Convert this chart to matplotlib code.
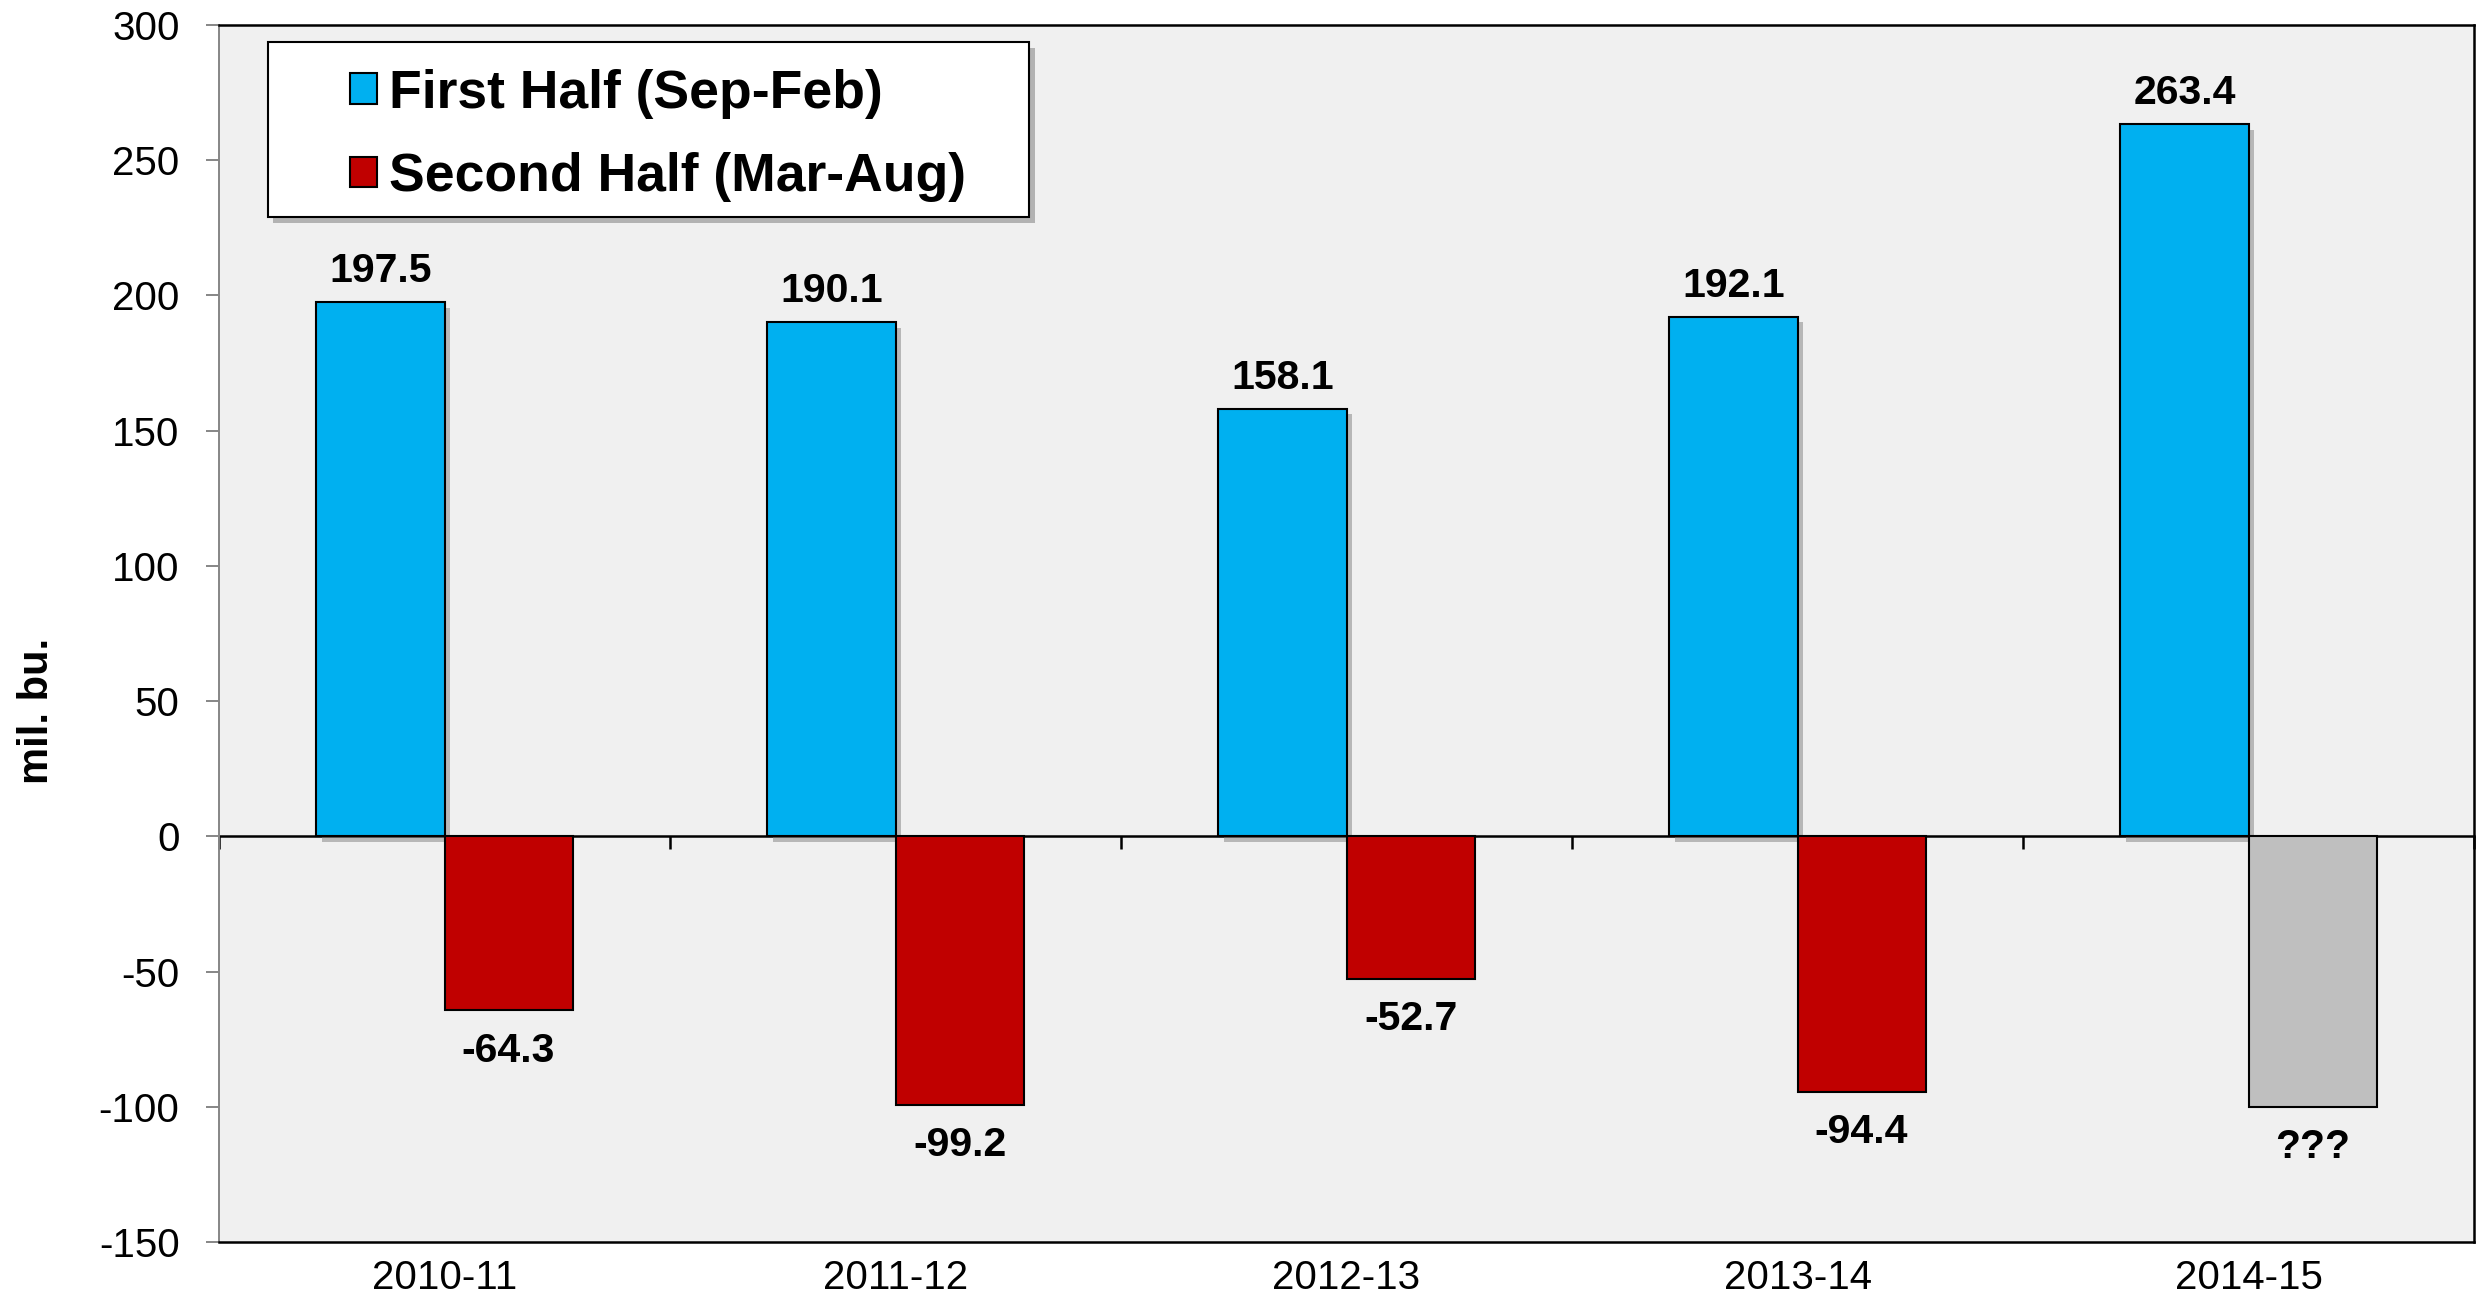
import numpy as np
import matplotlib
matplotlib.use("Agg")
import matplotlib.pyplot as plt
import matplotlib.patheffects as pe
from matplotlib.patches import Rectangle

plt.rcParams['font.family'] = ['Liberation Sans', 'DejaVu Sans']
plt.rcParams['axes.unicode_minus'] = False

# data
seasons = ['2010-11', '2011-12', '2012-13', '2013-14', '2014-15']
first_half = [197.5, 190.1, 158.1, 192.1, 263.4]
second_half = [-64.3, -99.2, -52.7, -94.4, -100.0]
second_labels = ['-64.3', '-99.2', '-52.7', '-94.4', '???']
second_colors = ['#C00000', '#C00000', '#C00000', '#C00000', '#BFBFBF']
yticks = [-150, -100, -50, 0, 50, 100, 150, 200, 250, 300]

fig = plt.figure(figsize=(24.83, 13.16), dpi=100)
ax = fig.add_axes([0.0882, 0.0562, 0.9082, 0.9248])
ax.set_facecolor('#F0F0F0')

x = np.arange(len(seasons))
w = 0.284

shadow = [pe.SimplePatchShadow(offset=(4, -4), shadow_rgbFace='#808080', alpha=0.5), pe.Normal()]

b1 = ax.bar(x - w / 2, first_half, w, color='#00B0F0', edgecolor='black', linewidth=1.5,
            label='First Half (Sep-Feb)', zorder=2)
for p in b1:
    p.set_path_effects(shadow)
b2 = ax.bar(x + w / 2, second_half, w, color=second_colors, edgecolor='black', linewidth=1.5,
            label='Second Half (Mar-Aug)', zorder=2)

# value labels
for xi, v in zip(x - w / 2, first_half):
    ax.annotate(f'{v:.1f}', (xi, v), xytext=(0, 14.4), textcoords='offset points',
                ha='center', va='baseline', fontsize=29.5, fontweight='bold')
for xi, v, s in zip(x + w / 2, second_half, second_labels):
    ax.annotate(s, (xi, v), xytext=(0, -15.5), textcoords='offset points',
                ha='center', va='top', fontsize=29.5, fontweight='bold')

ax.set_xlim(-0.5, len(seasons) - 0.5)
ax.set_ylim(-150, 300)
ax.set_yticks(yticks)
ax.set_xticks(x)
ax.set_xticklabels(seasons)
ax.tick_params(axis='y', labelsize=29, length=9.4, width=1.4, color='#868686', pad=19)
ax.tick_params(axis='x', labelsize=29, length=0, pad=12)

for s in ['top', 'right', 'bottom']:
    ax.spines[s].set_color('black')
    ax.spines[s].set_linewidth(1.8)
ax.spines['left'].set_color('#868686')
ax.spines['left'].set_linewidth(1.4)

# zero line with category divider ticks
sec = ax.secondary_xaxis(0, transform=ax.transData)
sec.set_alignment('bottom')
sec.set_xticks(np.arange(len(seasons) + 1) - 0.5)
sec.tick_params(axis='x', direction='out', length=9.4, width=1.8, color='black', labelbottom=False)
sec.spines['bottom'].set_color('black')
sec.spines['bottom'].set_linewidth(1.8)

ax.set_ylabel('mil. bu.', fontsize=30, fontweight='bold')
ax.yaxis.set_label_coords(-0.072, 0.436)

# legend box
box = Rectangle((0.0217, 0.842), 0.3375, 0.144, transform=ax.transAxes, facecolor='white',
                edgecolor='black', linewidth=1.5, zorder=5)
box.set_path_effects([pe.SimplePatchShadow(offset=(4, -4), shadow_rgbFace='#808080', alpha=0.55), pe.Normal()])
ax.add_patch(box)
leg = ax.legend(loc='upper left', bbox_to_anchor=(0.0581, 0.964), frameon=False,
                prop={'size': 38.5, 'weight': 'bold'}, handlelength=0.51, handleheight=0.51,
                handletextpad=0.22, labelspacing=0.62, borderpad=0, borderaxespad=0)
leg.set_zorder(6)
for h in leg.legend_handles:
    h.set_path_effects([])

fig.savefig('out.png', dpi=100)
